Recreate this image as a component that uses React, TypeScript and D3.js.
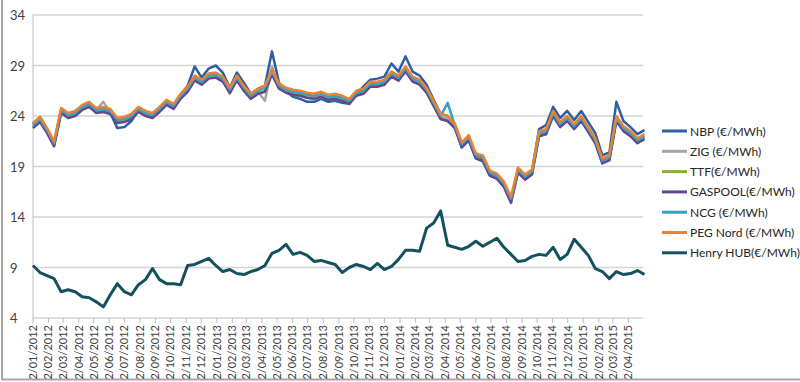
import React from "react";
import * as d3 from "d3";

const START = "2012-01-02";
const END = "2015-05-03";
const STEP_DAYS = 14;

const SERIES_NAMES = [
  "NBP (€/MWh)",
  "ZIG (€/MWh)",
  "TTF(€/MWh)",
  "GASPOOL(€/MWh)",
  "NCG (€/MWh)",
  "PEG Nord (€/MWh)",
  "Henry HUB(€/MWh)",
];
const SERIES_COLORS = ["#2F5DA5", "#A5A5A5", "#86B03A", "#64488F", "#31A2C6", "#EE8130", "#15505F"];

const NBP = [
  23.2, 23.9, 22.7, 21.3, 24.6, 24.1, 24.4, 24.9, 25.2, 24.7, 24.7, 24.3, 22.8, 22.9, 23.5, 24.6, 24.3, 24.0, 24.7, 25.4,
  25.0, 26.1, 27.0, 28.9, 27.8, 28.7, 29.0, 28.3, 26.8, 28.3, 27.3, 26.2, 26.7, 27.0, 30.4, 27.3, 26.4, 25.9, 25.7, 25.4,
  25.4, 25.7, 25.4, 25.5, 25.3, 25.2, 26.2, 26.9, 27.6, 27.7, 27.9, 29.2, 28.4, 29.9, 28.4, 28.0, 27.1, 25.6, 24.2, 24.0,
  23.0, 20.9, 21.6, 19.8, 19.5, 18.1, 17.8, 17.0, 15.4, 18.5, 17.9, 18.6, 22.7, 23.1, 24.9, 23.8, 24.5, 23.6, 24.5, 23.4,
  22.3, 20.1, 20.4, 25.4, 23.5, 22.9, 22.2, 22.6,
];
const ZIG = [
  23.0, 23.6, 22.5, 21.2, 24.4, 24.0, 24.2, 24.8, 25.0, 24.6, 25.4, 24.4, 23.5, 23.5, 23.9, 24.6, 24.2, 24.0, 24.6, 25.3,
  24.9, 25.9, 26.6, 27.7, 27.3, 27.9, 28.0, 27.6, 26.2, 27.7, 26.7, 25.9, 26.4, 25.5, 28.9, 26.9, 26.5, 26.3, 26.2, 26.0,
  25.9, 26.1, 25.8, 25.9, 25.7, 25.4, 26.2, 26.4, 27.1, 27.1, 27.3, 28.1, 27.7, 28.6, 27.6, 27.3, 26.5, 25.2, 23.9, 23.7,
  23.0, 21.1, 21.8, 20.0, 19.8, 18.3, 18.0, 17.2, 15.7, 18.6, 17.9, 18.4, 22.2, 22.4, 24.2, 23.1, 23.7, 22.9, 23.7, 22.6,
  21.5, 19.5, 19.8, 23.7, 22.7, 22.2, 21.5, 21.9,
];
const TTF = [
  22.9, 23.5, 22.4, 21.1, 24.3, 23.9, 24.1, 24.7, 24.9, 24.4, 24.5, 24.3, 23.4, 23.5, 23.8, 24.5, 24.1, 23.9, 24.5, 25.2,
  24.8, 25.8, 26.5, 27.6, 27.2, 27.8, 27.9, 27.5, 26.3, 27.6, 26.5, 25.7, 26.2, 26.5, 28.2, 26.8, 26.3, 26.1, 26.0, 25.8,
  25.7, 25.9, 25.6, 25.7, 25.6, 25.3, 26.1, 26.3, 27.0, 27.0, 27.2, 28.0, 27.6, 28.5, 27.5, 27.2, 26.3, 25.0, 23.7, 23.5,
  22.9, 21.0, 21.6, 19.9, 19.7, 18.2, 17.9, 17.1, 15.6, 18.5, 17.8, 18.3, 22.1, 22.3, 24.1, 23.0, 23.6, 22.8, 23.6, 22.5,
  21.4, 19.4, 19.7, 23.6, 22.6, 22.1, 21.4, 21.8,
];
const GASPOOL = [
  22.8, 23.4, 22.3, 21.0, 24.3, 23.8, 24.0, 24.6, 24.9, 24.3, 24.4, 24.2, 23.3, 23.4, 23.7, 24.4, 24.0, 23.8, 24.4, 25.1,
  24.7, 25.7, 26.4, 27.5, 27.1, 27.7, 27.8, 27.4, 26.3, 27.5, 26.5, 25.7, 26.2, 26.4, 28.1, 26.7, 26.3, 26.1, 26.0, 25.8,
  25.7, 25.9, 25.6, 25.7, 25.5, 25.2, 26.0, 26.2, 26.9, 26.9, 27.1, 27.9, 27.5, 28.4, 27.4, 27.1, 26.3, 25.0, 23.7, 23.5,
  22.8, 20.9, 21.6, 19.8, 19.6, 18.1, 17.8, 17.0, 15.5, 18.4, 17.7, 18.2, 22.0, 22.2, 24.0, 22.9, 23.5, 22.7, 23.5, 22.4,
  21.3, 19.3, 19.6, 23.5, 22.5, 22.0, 21.3, 21.7,
];
const NCG = [
  23.1, 23.7, 22.6, 21.3, 24.6, 24.1, 24.3, 24.9, 25.2, 24.6, 24.7, 24.5, 23.6, 23.7, 24.0, 24.7, 24.3, 24.1, 24.7, 25.4,
  25.0, 26.0, 26.7, 27.8, 27.4, 28.0, 28.1, 27.7, 26.6, 27.8, 26.8, 26.0, 26.5, 26.8, 28.4, 27.0, 26.6, 26.4, 26.3, 26.1,
  26.0, 26.2, 25.9, 26.0, 25.8, 25.5, 26.3, 26.5, 27.2, 27.2, 27.4, 28.2, 27.8, 28.7, 27.7, 27.4, 26.6, 25.3, 24.0, 25.3,
  23.1, 21.2, 21.9, 20.1, 19.9, 18.4, 18.1, 17.3, 15.8, 18.7, 18.0, 18.5, 22.3, 22.5, 24.3, 23.2, 23.8, 23.0, 23.8, 22.7,
  21.6, 19.6, 19.9, 23.8, 22.8, 22.3, 21.6, 22.0,
];
const PEG_NORD = [
  23.3, 23.9, 22.8, 21.5, 24.8, 24.3, 24.5, 25.1, 25.4, 24.8, 24.9, 24.7, 23.8, 23.9, 24.2, 24.9, 24.5, 24.3, 24.9, 25.6,
  25.2, 26.2, 26.9, 28.0, 27.6, 28.2, 28.3, 27.9, 26.8, 28.0, 27.0, 26.2, 26.7, 27.0, 28.6, 27.2, 26.8, 26.6, 26.5, 26.3,
  26.2, 26.4, 26.1, 26.2, 26.0, 25.7, 26.5, 26.7, 27.4, 27.4, 27.6, 28.4, 28.0, 28.9, 27.9, 27.6, 26.8, 25.5, 24.2, 24.0,
  23.3, 21.4, 22.1, 20.3, 20.1, 18.6, 18.3, 17.5, 16.0, 18.9, 18.2, 18.7, 22.5, 22.7, 24.5, 23.4, 24.0, 23.2, 24.0, 22.9,
  21.8, 19.8, 20.1, 24.0, 23.0, 22.5, 21.8, 22.2,
];
const HENRY_HUB = [
  9.2, 8.5, 8.2, 7.9, 6.6, 6.8, 6.6, 6.1, 6.0, 5.6, 5.1, 6.3, 7.4, 6.6, 6.3, 7.3, 7.8, 8.9, 7.8, 7.4,
  7.4, 7.3, 9.2, 9.3, 9.6, 9.9, 9.2, 8.6, 8.8, 8.4, 8.3, 8.6, 8.8, 9.2, 10.4, 10.7, 11.3, 10.3, 10.5, 10.2,
  9.6, 9.7, 9.5, 9.3, 8.5, 9.0, 9.3, 9.1, 8.8, 9.4, 8.8, 9.1, 9.8, 10.7, 10.7, 10.6, 12.9, 13.4, 14.6, 11.2,
  11.0, 10.8, 11.1, 11.6, 11.1, 11.5, 11.9, 11.0, 10.3, 9.6, 9.7, 10.1, 10.3, 10.2, 11.0, 9.8, 10.3, 11.8, 11.0, 10.2,
  8.9, 8.6, 7.9, 8.6, 8.3, 8.4, 8.7, 8.3,
];

const Y_TICKS = [4, 9, 14, 19, 24, 29, 34];

const ALL_SERIES = [NBP, ZIG, TTF, GASPOOL, NCG, PEG_NORD, HENRY_HUB];

export default function App() {
  const W = 800;
  const H = 382;
  const parse = d3.utcParse("%Y-%m-%d");
  const start = parse(START) as Date;
  const end = parse(END) as Date;
  const dates = NBP.map((_, i) => d3.utcDay.offset(start, i * STEP_DAYS));

  const x = d3.scaleUtc().domain([start, end]).range([33, 644]);
  const y = d3.scaleLinear().domain([4, 34]).range([318, 15]);

  const monthTicks = d3.utcMonth
    .range(d3.utcMonth.floor(start), end)
    .map((m) => d3.utcDay.offset(m, 1))
    .filter((d) => d >= start && d <= d3.utcDay.offset(end, -10));
  const fmt = (d: Date) => `${d.getUTCDate()}/${d3.utcFormat("%m/%Y")(d)}`;

  const line = d3
    .line<number>()
    .x((_, i) => x(dates[i]))
    .y((v) => y(v))
    .curve(d3.curveLinear);

  const font = "Lato, 'Open Sans', sans-serif";

  return (
    <svg
      width={W}
      height={H}
      style={{ position: "absolute", left: 0, top: 0, background: "#fff" }}
      fontFamily={font}
    >
      <rect x={0} y={0} width={W} height={H} fill="#fff" />
      {/* frame */}
      <line x1={2} x2={2} y1={0} y2={380} stroke="#a6a6a6" strokeWidth={2} />
      <line x1={2} x2={W} y1={379.5} y2={379.5} stroke="#a6a6a6" strokeWidth={2} />

      {/* gridlines */}
      {Y_TICKS.filter((t) => t !== 4).map((t) => (
        <line key={t} x1={33} x2={643} y1={y(t)} y2={y(t)} stroke="#d4d4d4" strokeWidth={1.5} />
      ))}
      {/* axes */}
      <line x1={33} x2={33} y1={y(34)} y2={y(4)} stroke="#bfbfbf" strokeWidth={1} />
      <line x1={33} x2={643} y1={y(4)} y2={y(4)} stroke="#bfbfbf" strokeWidth={1} />
      {Y_TICKS.map((t) => (
        <text key={t} x={10} y={y(t)} dominantBaseline="central" fontSize={13} fill="#404040">
          {t}
        </text>
      ))}
      {monthTicks.map((d, i) => (
        <g key={i}>
          <line x1={x(d)} x2={x(d)} y1={318} y2={323} stroke="#bfbfbf" />
          <text
            transform={`translate(${x(d)},325) rotate(-90)`}
            textAnchor="end"
            dy="0.35em"
            fontSize={11}
            fill="#404040"
          >
            {fmt(d)}
          </text>
        </g>
      ))}

      {/* series */}
      {ALL_SERIES.map((s, i) => (
        <path
          key={i}
          d={line(s) || ""}
          fill="none"
          stroke={SERIES_COLORS[i]}
          strokeWidth={i === 6 ? 3 : 2.5}
          strokeLinejoin="round"
        />
      ))}

      {/* legend */}
      {SERIES_NAMES.map((name, i) => {
        const ly = 131 + i * 20.3;
        return (
          <g key={name}>
            <line x1={662} x2={687} y1={ly} y2={ly} stroke={SERIES_COLORS[i]} strokeWidth={3} />
            <text x={690} y={ly} dominantBaseline="central" fontSize={12} fill="#262626">
              {name}
            </text>
          </g>
        );
      })}
    </svg>
  );
}
